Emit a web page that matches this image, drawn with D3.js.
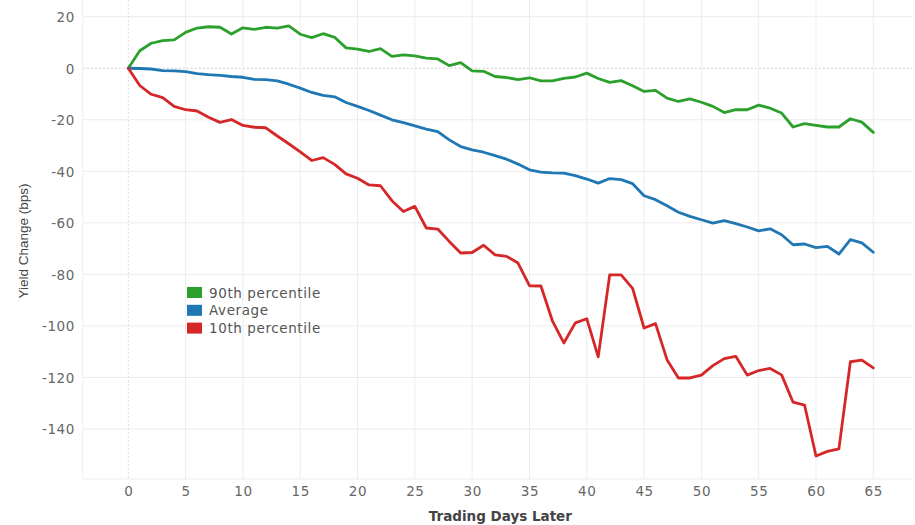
<!DOCTYPE html>
<html>
<head>
<meta charset="utf-8">
<script src="https://cdn.jsdelivr.net/npm/d3@7"></script>
<style>
  html, body { margin: 0; padding: 0; background: #fff; }
  svg { display: block; }
</style>
</head>
<body>
<svg id="chart" width="915" height="525"></svg>
<script>
const days = d3.range(0, 66);
const p90 = [0, 6.8, 9.7, 10.7, 11.0, 13.9, 15.6, 16.1, 15.9, 13.3, 15.7, 15.1, 15.9, 15.6, 16.4, 13.2, 11.9, 13.4, 12.0, 7.9,
  7.4, 6.5, 7.6, 4.6, 5.2, 4.8, 3.9, 3.6, 1.0, 2.2, -1.0, -1.2, -3.2, -3.6, -4.4, -3.7, -4.9, -4.9, -3.9, -3.4,
  -1.9, -4.0, -5.5, -4.8, -6.8, -9.0, -8.6, -11.6, -12.9, -11.9, -13.2, -14.8, -17.2, -16.1, -16.1, -14.3, -15.5, -17.4, -22.8, -21.5,
  -22.2, -22.8, -22.8, -19.6, -20.9, -24.9];
const avg = [0, -0.1, -0.3, -0.9, -1.0, -1.3, -2.1, -2.5, -2.8, -3.2, -3.5, -4.3, -4.4, -4.9, -6.2, -7.7, -9.4, -10.5, -11.1, -13.3,
  -14.8, -16.4, -18.2, -20.0, -21.1, -22.4, -23.6, -24.6, -27.8, -30.4, -31.7, -32.6, -33.9, -35.3, -37.2, -39.4, -40.3, -40.6, -40.7, -41.7,
  -43.0, -44.6, -42.8, -43.2, -44.8, -49.5, -51.0, -53.4, -55.9, -57.5, -58.8, -60.1, -59.1, -60.3, -61.6, -63.1, -62.3, -64.6, -68.5, -68.2,
  -69.6, -69.1, -72.1, -66.5, -67.8, -71.4];
const p10 = [0, -6.7, -10.1, -11.4, -14.8, -16.1, -16.6, -19.0, -21.0, -19.9, -22.2, -22.9, -23.1, -26.3, -29.3, -32.5, -35.8, -34.7, -37.3, -41.0,
  -42.7, -45.3, -45.6, -51.4, -55.6, -53.6, -62.0, -62.4, -67.2, -71.7, -71.5, -68.7, -72.4, -73.0, -75.6, -84.4, -84.5, -98.0, -106.6, -98.8,
  -97.2, -112.0, -80.2, -80.2, -85.4, -100.8, -99.1, -113.1, -120.2, -120.2, -119.1, -115.4, -112.7, -111.8, -119.1, -117.3, -116.5, -119.0, -129.6, -130.7,
  -150.5, -148.7, -147.7, -113.9, -113.3, -116.3];
const seriesNames = ["90th percentile", "Average", "10th percentile"];
const seriesColors = ["#2ca02c", "#1f77b4", "#d62728"];
const xTicks = d3.range(0, 66, 5);
const yTicks = d3.range(-140, 21, 20);
const xTitle = "Trading Days Later";
const yTitle = "Yield Change (bps)";

const svg = d3.select("#chart");
const panel = { left: 82.7, right: 912, top: 0, bottom: 479 };

const x = d3.scaleLinear().domain([0, 65]).range([128.3, 873.3]);
const y = d3.scaleLinear().domain([-140, 20]).range([429, 16.7]);

// grid
const grid = svg.append("g");
grid.selectAll("line.h").data(yTicks).join("line")
  .attr("x1", panel.left).attr("x2", panel.right)
  .attr("y1", d => y(d)).attr("y2", d => y(d))
  .attr("stroke", d => d === 0 ? "#cfcfcf" : "#ececec")
  .attr("stroke-width", 1)
  .attr("stroke-dasharray", d => d === 0 ? "2,2" : null);
grid.selectAll("line.v").data(xTicks).join("line")
  .attr("y1", panel.top).attr("y2", panel.bottom)
  .attr("x1", d => x(d)).attr("x2", d => x(d))
  .attr("stroke", d => d === 0 ? "#dcdcdc" : "#ececec")
  .attr("stroke-width", 1)
  .attr("stroke-dasharray", d => d === 0 ? "2,2" : null);
grid.append("line").attr("x1", panel.left).attr("x2", panel.left).attr("y1", panel.top).attr("y2", panel.bottom)
  .attr("stroke", "#eeeeee");
grid.append("line").attr("x1", panel.left).attr("x2", panel.right).attr("y1", panel.bottom).attr("y2", panel.bottom)
  .attr("stroke", "#eeeeee");

// axes (labels only)
const fontFam = "'DejaVu Sans', Verdana, sans-serif";
const yAxis = svg.append("g").attr("transform", "translate(75,0)")
  .call(d3.axisLeft(y).tickValues(yTicks).tickFormat(d => String(d)).tickSize(0).tickPadding(0));
yAxis.select(".domain").remove();
yAxis.selectAll("text").attr("font-family", fontFam).attr("font-size", 13.5)
  .attr("fill", "#666").attr("letter-spacing", "0.6px").attr("dy", "0.36em");

const xAxis = svg.append("g").attr("transform", "translate(0,486)")
  .call(d3.axisBottom(x).tickValues(xTicks).tickFormat(d => String(d)).tickSize(0).tickPadding(0));
xAxis.select(".domain").remove();
xAxis.selectAll("text").attr("font-family", fontFam).attr("font-size", 13.5)
  .attr("fill", "#666").attr("letter-spacing", "0.6px");

// titles
svg.append("text").attr("x", (panel.left + panel.right) / 2 + 3).attr("y", 521)
  .attr("text-anchor", "middle").attr("font-family", fontFam).attr("font-weight", "bold")
  .attr("font-size", 13.5).attr("fill", "#444").text(xTitle);
svg.append("text").attr("transform", "translate(28,241) rotate(-90)")
  .attr("text-anchor", "middle").attr("font-family", "'Liberation Sans Narrow', 'Liberation Sans', sans-serif")
  .attr("font-size", 13.5).attr("fill", "#444").text(yTitle);

// lines
const seriesData = [p90, avg, p10];
const line = d3.line().x((d, i) => x(days[i])).y(d => y(d));
svg.append("g").selectAll("path").data(seriesData).join("path")
  .attr("d", d => line(d))
  .attr("fill", "none")
  .attr("stroke", (d, i) => seriesColors[i])
  .attr("stroke-width", 2.8)
  .attr("stroke-linejoin", "round")
  .attr("stroke-linecap", "round");

// legend
const legend = svg.append("g").attr("transform", "translate(187,287)");
const rows = legend.selectAll("g").data(seriesNames).join("g")
  .attr("transform", (d, i) => `translate(0,${i * 17.8})`);
rows.append("rect").attr("width", 15).attr("height", 11).attr("fill", (d, i) => seriesColors[i]);
rows.append("text").attr("x", 22).attr("y", 10.5)
  .attr("font-family", fontFam).attr("font-size", 13.5).attr("fill", "#555")
  .attr("letter-spacing", "0.6px").text(d => d);
</script>
</body>
</html>
